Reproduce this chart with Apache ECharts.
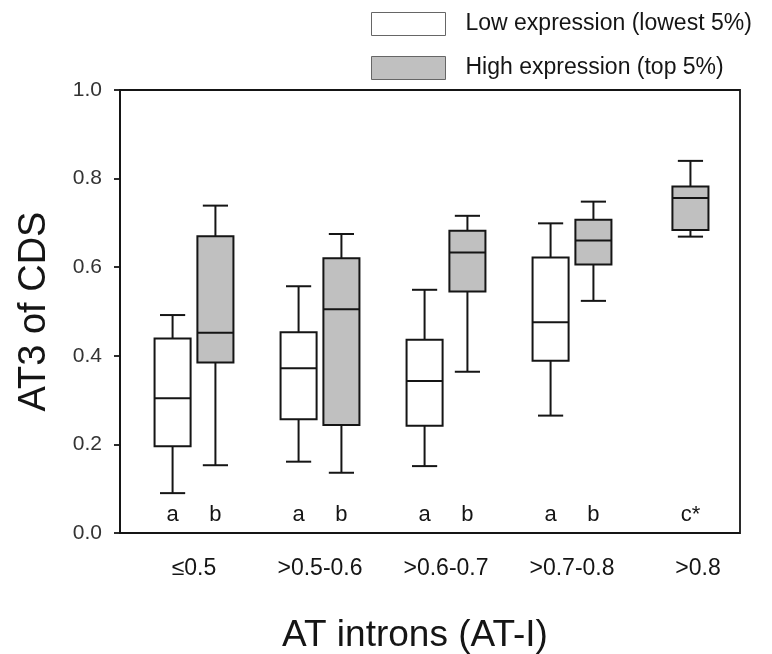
<!DOCTYPE html>
<html>
<head>
<meta charset="utf-8">
<script src="https://cdn.jsdelivr.net/npm/echarts@6/dist/echarts.min.js"></script>
<style>
  html, body { margin: 0; padding: 0; background: #fff; }
  #chart-container { width: 772px; height: 654px; }
</style>
</head>
<body>
<div id="chart-container"></div>
<script>
// x categories
const categories = ['≤0.5', '>0.5-0.6', '>0.6-0.7', '>0.7-0.8', '>0.8'];
// each box: [lower whisker, Q1, median, Q3, upper whisker]
const lowExpr = [
  [0.090, 0.196, 0.304, 0.439, 0.492],
  [0.161, 0.257, 0.372, 0.453, 0.557],
  [0.151, 0.242, 0.343, 0.436, 0.549],
  [0.265, 0.389, 0.476, 0.622, 0.699],
  null
];
const highExpr = [
  [0.153, 0.385, 0.452, 0.670, 0.739],
  [0.136, 0.244, 0.505, 0.620, 0.675],
  [0.364, 0.545, 0.633, 0.682, 0.716],
  [0.524, 0.606, 0.660, 0.707, 0.748],
  [0.669, 0.684, 0.756, 0.782, 0.840]
];
// significance letters under each box
const lowLetters = ['a', 'a', 'a', 'a', ''];
const highLetters = ['b', 'b', 'b', 'b', 'c*'];
const yTicks = [0, 0.2, 0.4, 0.6, 0.8, 1.0];

const FONT = '"Liberation Sans", Arial, sans-serif';
const INK = '#151515';
const GRAY = '#c0c0c0';

var dom = document.getElementById('chart-container');
var myChart = echarts.init(dom, null, { renderer: 'canvas' });

function toData(list) {
  let out = [];
  list.forEach(function (d, i) {
    if (d) out.push([i].concat(d));
  });
  return out;
}

// side: -1 left box, +1 right box
function makeRender(side, letters, fill) {
  return function (params, api) {
    const i = api.value(0);
    const band = api.size([1, 0])[0];
    const single = side === 1 && !lowExpr[i];
    const cx = api.coord([i, 0])[0] + (single ? -band * 0.06 : side * band * 0.17);
    const bw = band * 0.286;
    const cw = band * 0.2;
    const y = function (v) { return api.coord([i, v])[1]; };
    const lo = y(api.value(1)), q1 = y(api.value(2)), md = y(api.value(3)),
          q3 = y(api.value(4)), hi = y(api.value(5));
    const ls = { stroke: INK, lineWidth: 2, fill: null };
    const ly = api.coord([i, 0.04])[1];
    return {
      type: 'group',
      children: [
        { type: 'line', shape: { x1: cx, y1: q3, x2: cx, y2: hi }, style: ls },
        { type: 'line', shape: { x1: cx, y1: q1, x2: cx, y2: lo }, style: ls },
        { type: 'line', shape: { x1: cx - cw / 2, y1: hi, x2: cx + cw / 2, y2: hi }, style: ls },
        { type: 'line', shape: { x1: cx - cw / 2, y1: lo, x2: cx + cw / 2, y2: lo }, style: ls },
        { type: 'rect', shape: { x: cx - bw / 2, y: q3, width: bw, height: q1 - q3 },
          style: { fill: fill, stroke: INK, lineWidth: 2 } },
        { type: 'line', shape: { x1: cx - bw / 2, y1: md, x2: cx + bw / 2, y2: md }, style: ls },
        { type: 'text', x: cx, y: ly,
          style: { text: letters[i], fill: INK, font: '22px ' + FONT,
                   align: 'center', verticalAlign: 'middle' } }
      ]
    };
  };
}

var option = {
  animation: false,
  backgroundColor: '#fff',
  textStyle: { fontFamily: FONT },
  legend: {
    orient: 'vertical',
    left: 366,
    top: 7,
    itemWidth: 74,
    itemHeight: 23,
    itemGap: 20,
    icon: 'rect',
    textStyle: { fontSize: 23, color: INK, fontFamily: FONT, padding: [0, 0, 0, 15] },
    data: [
      { name: 'Low expression (lowest 5%)', itemStyle: { color: '#fff', borderColor: '#666', borderWidth: 1 } },
      { name: 'High expression (top 5%)', itemStyle: { color: GRAY, borderColor: '#666', borderWidth: 1 } }
    ]
  },
  grid: [
    { left: 120, top: 90, width: 620, height: 443, outerBoundsMode: 'none',
      show: true, borderColor: INK, borderWidth: 1.8 },
    { left: 131, top: 90, width: 630, height: 443, outerBoundsMode: 'none' }
  ],
  xAxis: [
    {
      gridIndex: 0, type: 'value', min: 0, max: 1,
      axisLine: { show: false }, axisTick: { show: false }, axisLabel: { show: false },
      splitLine: { show: false },
      name: 'AT introns (AT-I)', nameLocation: 'middle', nameGap: 84,
      nameTextStyle: { fontSize: 37, color: INK, fontFamily: FONT, padding: [0, 30, 0, 0] }
    },
    {
      gridIndex: 1, type: 'category', data: categories,
      axisLine: { show: false }, axisTick: { show: false },
      axisLabel: { fontSize: 23, color: INK, margin: 24, fontFamily: FONT },
      splitLine: { show: false }
    }
  ],
  yAxis: [
    {
      gridIndex: 0, type: 'value', min: yTicks[0], max: yTicks[yTicks.length - 1], interval: 0.2,
      axisLine: { show: true, lineStyle: { color: INK, width: 1.8 } },
      axisTick: { show: true, inside: false, length: 6, lineStyle: { color: INK, width: 1.8 } },
      axisLabel: { fontSize: 21, color: '#333', margin: 18, fontFamily: FONT,
                   formatter: function (v) { return v.toFixed(1); } },
      splitLine: { show: false },
      name: 'AT3 of CDS', nameLocation: 'middle', nameGap: 66,
      nameTextStyle: { fontSize: 38, color: INK, fontFamily: FONT }
    },
    { gridIndex: 1, type: 'value', min: 0, max: 1, show: false }
  ],
  series: [
    {
      name: 'Low expression (lowest 5%)',
      type: 'custom',
      xAxisIndex: 1, yAxisIndex: 1,
      itemStyle: { color: '#fff' },
      clip: false,
      renderItem: makeRender(-1, lowLetters, '#fff'),
      encode: { x: 0, y: [1, 2, 3, 4, 5] },
      data: toData(lowExpr)
    },
    {
      name: 'High expression (top 5%)',
      type: 'custom',
      xAxisIndex: 1, yAxisIndex: 1,
      itemStyle: { color: GRAY },
      clip: false,
      renderItem: makeRender(1, highLetters, GRAY),
      encode: { x: 0, y: [1, 2, 3, 4, 5] },
      data: toData(highExpr)
    }
  ]
};

myChart.setOption(option);
</script>
</body>
</html>
